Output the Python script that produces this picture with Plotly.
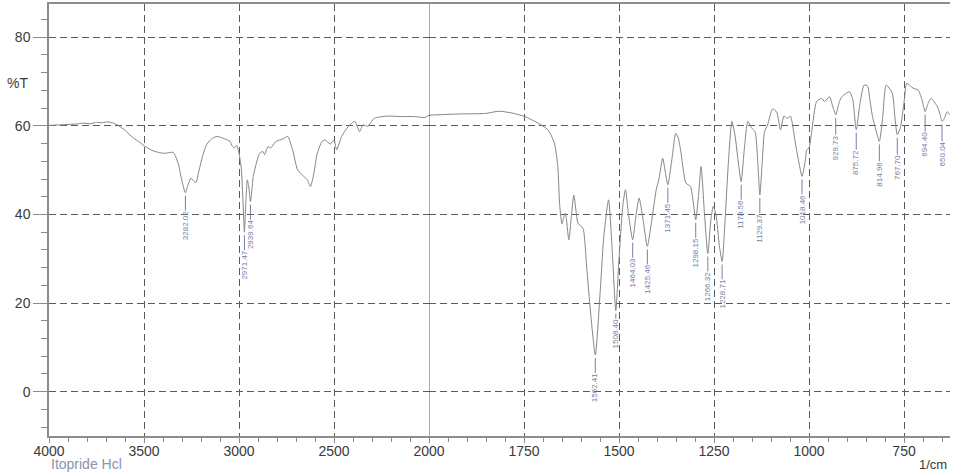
import plotly.graph_objects as go

# ---------------- data ----------------
wavenumber = [
    4000, 3950, 3900, 3860, 3820, 3780, 3750, 3720, 3690, 3660, 3640, 3600, 3560, 3520, 3500,
    3460, 3424, 3390, 3346, 3320, 3300, 3282.02, 3270, 3253, 3240, 3227, 3210, 3192, 3170, 3140,
    3115, 3090, 3060, 3047, 3035, 3025, 3012, 3000, 2988, 2980, 2971.47, 2965, 2956, 2948,
    2939.64, 2930, 2925, 2904, 2891, 2874, 2865, 2848, 2835, 2805, 2770, 2744, 2718, 2692,
    2667, 2640, 2624, 2605, 2590, 2563, 2546, 2520, 2500, 2486, 2460, 2426, 2391, 2365, 2348,
    2322, 2288, 2219, 2150, 2081, 2021, 2000,
    1950, 1911, 1851, 1816, 1782, 1748, 1713, 1687, 1670, 1661, 1656, 1650, 1645, 1641, 1632,
    1625, 1619, 1612, 1608, 1595, 1585, 1575, 1562.41, 1550, 1540, 1527.5, 1518, 1508.40,
    1500, 1490, 1483, 1475, 1464.03, 1455, 1447, 1437, 1425.46, 1415, 1402, 1395, 1385, 1378,
    1371.45, 1360, 1351, 1345, 1338, 1324, 1312, 1305, 1298.15, 1291, 1284, 1275, 1266.32,
    1258, 1252, 1245, 1236, 1228.71, 1220, 1212, 1203, 1195, 1185, 1178.56, 1170, 1161, 1151,
    1142, 1135, 1129.37, 1123, 1117, 1109, 1096, 1085, 1075, 1066, 1057, 1049, 1036, 1025,
    1018.46, 1010, 1006, 1000, 993, 980, 967, 959, 946, 938, 929.73, 920, 913, 894, 885,
    875.72, 866, 855, 846, 840, 833, 824, 814.96, 806, 797, 781, 774, 767.70, 760, 756, 749,
    743, 726, 713, 703, 694.40, 687, 679, 662, 655, 650.04, 645, 636, 629,
]
transmittance = [
    60.1, 60.2, 60.3, 60.4, 60.6, 60.5, 60.8, 60.7, 60.9, 60.6, 60.2, 59.0, 57.4, 56.2, 55.5,
    54.5, 54.0, 53.8, 54.0, 51.5, 47.5, 44.9, 46.5, 48.2, 47.6, 47.2, 50.0, 53.1, 55.8, 57.2,
    57.6, 57.3, 56.8, 56.5, 55.4, 55.0, 55.6, 53.8, 50.4, 44.0, 36.0, 42.0, 47.8, 46.0,
    42.9, 46.5, 48.6, 52.3, 53.8, 54.2, 53.5, 55.3, 55.0, 56.5, 57.0, 57.6, 54.6, 50.1,
    48.9, 47.8, 46.3, 49.5, 53.5, 56.5, 56.8, 55.9, 56.8, 54.6, 57.6, 59.8, 61.0, 58.7, 60.2,
    59.9, 61.7, 62.2, 62.1, 62.1, 61.9, 62.4,
    62.6, 62.7, 62.8, 63.3, 62.9, 62.1, 60.6, 59.1, 56.1, 50.8, 42.0, 37.9, 39.5, 40.3, 34.3,
    40.0, 44.4, 40.0, 38.0, 36.9, 28.0, 18.0, 8.3, 22.0, 35.0, 43.3, 32.0, 18.3,
    30.0, 42.0, 45.6, 40.0, 34.3, 40.0, 43.7, 39.0, 32.8, 38.0, 45.6, 48.0, 52.7, 49.5,
    46.7, 53.0, 58.3, 57.5, 54.6, 47.1, 46.3, 43.0, 38.8, 44.0, 50.8, 40.0, 31.2,
    39.0, 41.8, 40.0, 33.0, 29.4, 40.0, 52.0, 61.0, 58.0, 51.0, 47.4, 55.0, 61.0, 59.5,
    58.7, 52.0, 44.4, 52.0, 58.7, 60.2, 63.8, 63.1, 59.1, 62.2, 61.7, 62.2, 56.1, 51.0,
    48.6, 52.0, 54.6, 55.0, 58.7, 65.5, 66.2, 65.5, 66.6, 64.5, 62.5, 65.5, 66.6, 67.7, 66.0,
    59.1, 65.0, 69.2, 69.0, 66.0, 62.1, 59.0, 56.5, 62.0, 69.2, 67.4, 62.0, 58.0, 59.5, 61.3, 66.0,
    69.6, 68.5, 68.1, 66.0, 63.2, 65.0, 66.2, 64.3, 62.5, 61.0, 61.5, 63.2, 62.5,
]

peak_labels = ["3282.02", "2971.47", "2939.64", "1562.41", "1508.40", "1464.03", "1425.46",
               "1371.45", "1298.15", "1266.32", "1228.71", "1178.56", "1129.37", "1018.46",
               "929.73", "875.72", "814.96", "767.70", "694.40", "650.04"]
peak_transmittance = [44.9, 36.0, 42.9, 8.3, 18.3, 34.3, 32.8, 46.7, 38.8, 31.2, 29.4, 47.4,
                      44.4, 48.6, 62.5, 59.1, 56.5, 58.0, 63.2, 61.0]

x_ticks_left = [4000, 3500, 3000, 2500, 2000]
x_ticks_right = [1750, 1500, 1250, 1000, 750]
y_range = [-10, 87.5]
x_range_left = [4000, 2000]
x_range_right = [2000, 629]

sample_name = "Itopride Hcl"
x_unit = "1/cm"
y_title = "%T"

# ---------------- styling ----------------
FONT = "Liberation Sans, Arial, sans-serif"
LINE_C = "#858585"
AXIS_C = "#8c8c8c"
GRID_C = "#5a5a5a"
LABEL_C = "#7580a6"
TEXT_C = "#3a3a3a"
DASH = "7px,4px"
split = 2000
scale_ratio = 2.0  # right part is drawn at twice the px/unit of the left part

left_units = abs(x_range_left[0] - x_range_left[1])
right_units = abs(x_range_right[0] - x_range_right[1]) * scale_ratio
f = left_units / (left_units + right_units)

lx = [w for w in wavenumber if w >= split]
ly = [t for w, t in zip(wavenumber, transmittance) if w >= split]
rx = [w for w in wavenumber if w <= split]
ry = [t for w, t in zip(wavenumber, transmittance) if w <= split]

fig = go.Figure()
fig.add_trace(go.Scatter(x=lx, y=ly, xaxis="x", yaxis="y", mode="lines",
                         line=dict(color=LINE_C, width=1, shape="spline", smoothing=0.6),
                         hoverinfo="skip"))
fig.add_trace(go.Scatter(x=rx, y=ry, xaxis="x2", yaxis="y", mode="lines",
                         line=dict(color=LINE_C, width=1, shape="spline", smoothing=0.6),
                         hoverinfo="skip"))

common_x = dict(
    showline=True, linecolor=AXIS_C, linewidth=1.5, mirror=True,
    showgrid=True, gridcolor=GRID_C, gridwidth=1, griddash=DASH,
    ticks="outside", ticklen=5, tickcolor=AXIS_C, tickwidth=1,
    tickfont=dict(family=FONT, size=14, color=TEXT_C),
    ticklabelstandoff=-4,
    zeroline=False, anchor="y", tickmode="array",
)
fig.update_layout(
    xaxis=dict(domain=[0, f], range=x_range_left, tickvals=x_ticks_left,
               ticktext=[str(v) for v in x_ticks_left],
               minor=dict(dtick=100, tick0=0, ticks="outside", ticklen=4,
                          tickcolor=AXIS_C, showgrid=False), **common_x),
    xaxis2=dict(domain=[f, 1], range=x_range_right, tickvals=x_ticks_right,
                ticktext=[str(v) for v in x_ticks_right],
                minor=dict(dtick=50, tick0=0, ticks="outside", ticklen=4,
                           tickcolor=AXIS_C, showgrid=False), **common_x),
    yaxis=dict(range=y_range, tickmode="linear", tick0=0, dtick=20,
               showline=True, linecolor=AXIS_C, linewidth=1.5,
               showgrid=True, gridcolor=GRID_C, gridwidth=1, griddash=DASH,
               ticks="outside", ticklen=14, tickcolor=AXIS_C, tickwidth=1,
               minor=dict(dtick=4, tick0=0, ticks="outside", ticklen=6,
                          tickcolor=AXIS_C, showgrid=False),
               tickfont=dict(family=FONT, size=14, color=TEXT_C),
               zeroline=False, anchor="x"),
    width=966, height=472,
    margin=dict(l=49, r=0, t=4, b=36),
    paper_bgcolor="white", plot_bgcolor="white",
    showlegend=False,
)

# solid divider at the scale change
fig.add_shape(type="line", xref="x2", yref="y domain", x0=split, x1=split, y0=0, y1=1,
              line=dict(color="#555555", width=1))

annotations = []
for lab, t in zip(peak_labels, peak_transmittance):
    w = float(lab)
    xr = "x" if w >= split else "x2"
    ay = 23 if lab == "1508.40" else 33
    annotations.append(dict(
        x=w, y=t, xref=xr, yref="y", text=lab, textangle=-90,
        showarrow=True, arrowhead=0, arrowwidth=1, arrowcolor=LABEL_C,
        ax=0, ay=ay, standoff=3, borderpad=0,
        font=dict(family=FONT, size=8, color=LABEL_C),
    ))

annotations.append(dict(x=0, y=69.7, xref="paper", yref="y", text=y_title, showarrow=False,
                        xanchor="right", xshift=-19,
                        font=dict(family=FONT, size=14, color=TEXT_C)))
annotations.append(dict(x=0, y=0, xref="paper", yref="paper", text=sample_name, showarrow=False,
                        xanchor="left", yanchor="middle", yshift=-28,
                        font=dict(family=FONT, size=14, color="#8a93ad")))
annotations.append(dict(x=1, y=0, xref="paper", yref="paper", text=x_unit, showarrow=False,
                        xanchor="right", yanchor="middle", yshift=-28, xshift=-1,
                        font=dict(family=FONT, size=13, color=TEXT_C)))
fig.update_layout(annotations=annotations)

fig.write_html("out.html")
